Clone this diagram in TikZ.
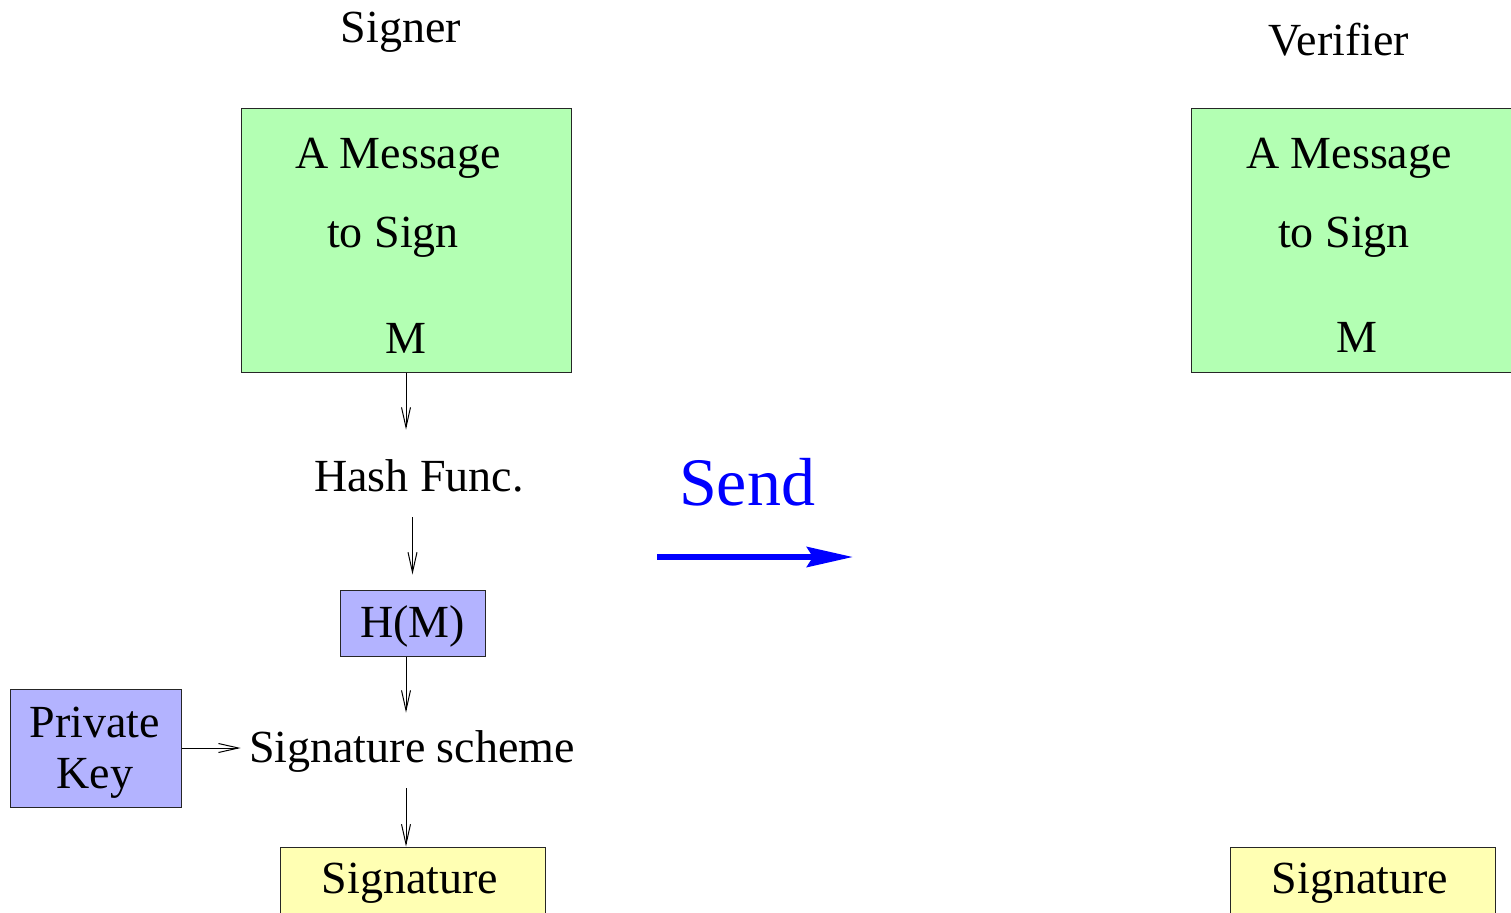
\documentclass[tikz,border=0pt]{standalone}
\usepackage{fontspec}
\setmainfont{Liberation Serif}
\usetikzlibrary{arrows.meta}

\definecolor{msggreen}{RGB}{179,255,179}
\definecolor{keyblue}{RGB}{179,179,255}
\definecolor{sigyellow}{RGB}{255,255,179}

\tikzset{
  lbl/.style={font=\fontsize{23}{28}\selectfont, inner sep=0pt, anchor=base},
  box/.style={draw=black!85, line width=0.5pt, inner sep=0pt},
  msgbox/.style={box, fill=msggreen, minimum width=165pt, minimum height=132pt},
  keybox/.style={box, fill=keyblue},
  sigbox/.style={box, fill=sigyellow, minimum width=132.5pt, minimum height=40pt},
  flow/.style={line width=0.5pt, -{Straight Barb[length=10pt,width=4.5pt]}},
  sendarrow/.style={blue, line width=3pt, -{Stealth[length=23pt,width=10pt,inset=3pt]}}
}

\begin{document}
\begin{tikzpicture}[x=0.5pt,y=-0.5pt]
   \useasboundingbox (0,0) rectangle (1511,912);
   % signer side
   \node[lbl] (signer) at (401,42) {Signer};
   \node[msgbox] (msgS) at (406,240) {};
   \node[lbl] (msgSa) at (398,168) {A Message};
   \node[lbl] (msgSb) at (393,247) {to Sign};
   \node[lbl] (msgSc) at (406,353) {M};
   \node[lbl, text height=30.5pt, text depth=13pt] (hash) at (419,491) {Hash Func.};
   \node[lbl, keybox, text height=23.5pt, text depth=9.5pt, minimum width=72.5pt] (hm) at (412.5,637) {H(M)};
   \node[lbl, text height=24.5pt, text depth=13pt, inner xsep=4pt] (scheme) at (412,762) {Signature scheme};
   \node[keybox, minimum width=85.5pt, minimum height=59pt] (pk) at (95.5,748) {};
   \node[lbl] (pka) at (95,737) {Private};
   \node[lbl] (pkb) at (95,788) {Key};
   \node[sigbox] (sigS) at (412.5,887) {};
   \node[lbl] (sigSt) at (410,893) {Signature};
   % verifier side
   \node[lbl] (verifier) at (1339,55) {Verifier};
   \node[msgbox] (msgV) at (1356,240) {};
   \node[lbl] (msgVa) at (1349,168) {A Message};
   \node[lbl] (msgVb) at (1344,247) {to Sign};
   \node[lbl] (msgVc) at (1357,352) {M};
   \node[sigbox] (sigV) at (1363,887) {};
   \node[lbl] (sigVt) at (1360,893) {Signature};
   % send
   \node[lbl, blue, font=\fontsize{34}{40}\selectfont] (send) at (747,505) {Send};
   \coordinate (sendA) at (657,557);
   \coordinate (sendB) at (853,557);
   \draw[sendarrow] (sendA) -- (sendB);
   % flow of the signer
   \draw[flow] (msgS.south) -- (msgS.south |- hash.north);
   \draw[flow, shorten >=7.5pt] (hash.south -| hm.north) -- (hm.north);
   \draw[flow] (hm.south -| msgS.south) -- (msgS.south |- scheme.north);
   \draw[flow] (msgS.south |- scheme.south) -- (msgS.south |- sigS.north);
   \draw[flow] (pk.east) -- (pk.east -| scheme.west);
\end{tikzpicture}
\end{document}
